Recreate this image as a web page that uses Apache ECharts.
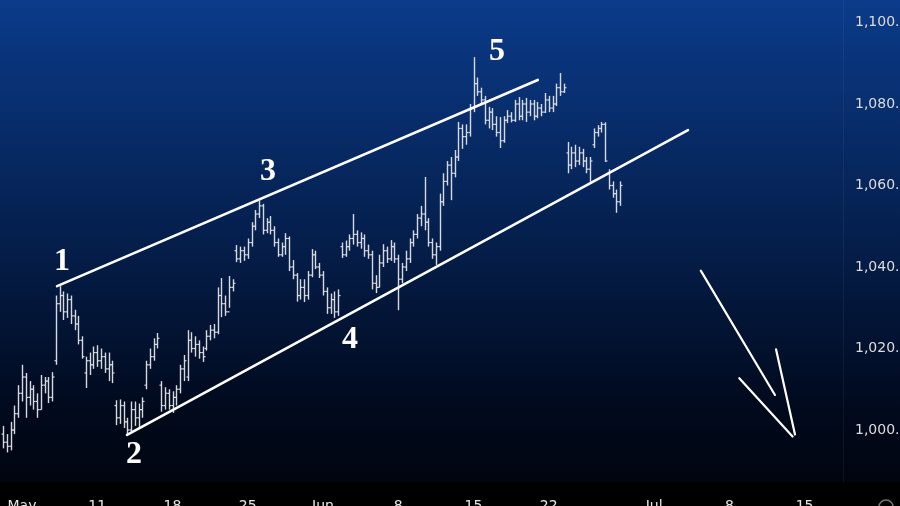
<!DOCTYPE html>
<html>
<head>
<meta charset="utf-8">
<script src="https://cdn.jsdelivr.net/npm/echarts@6/dist/echarts.min.js"></script>
<style>
html,body{margin:0;padding:0;background:#000;}
#chart{width:900px;height:506px;}
</style>
</head>
<body>
<div id="chart"></div>
<script>
// ---- data ----
// bars: [open, close, low, high], 4 bars per trading day, first bar at day -1.25 (day 0 = May 4)
var firstDay = -1.25;
var barsPerDay = 4;
var bars = [
[999,997,995.5,1001],[997,996,994.5,999],[996,1000,995,1002],[1000,1004,999,1006],
[1004,1009,1003,1011],[1009,1013,1007,1016],[1013,1008,1003,1014],[1008,1010,1006,1012],
[1010,1007,1005,1011],[1007,1005,1003,1009],[1005,1011,1005,1013.5],[1011,1012,1009,1013],
[1012,1008,1006.6,1013],[1008,1013,1007,1014.2],[1017,1031,1016,1033],[1031,1033,1029,1035.3],
[1033,1029,1027,1034],[1029,1032,1027.5,1033.5],[1032,1028,1026,1033],[1028,1026,1024.5,1029.5],
[1026,1022,1021,1028],[1022,1018,1017.5,1023],[1014,1017,1010.3,1018],[1017,1016,1013.5,1019],
[1016,1019,1015,1020.5],[1019,1017,1015.5,1020.8],[1017,1018,1015,1020],[1018,1015,1014,1019],
[1015,1016,1012,1019],[1016,1014,1011.5,1017],
[1006,1003,1001.2,1007.3],[1003,1006,1001.5,1007.5],[1006,1002,1000.5,1007],[1002,1000,998.8,1003],
[1000,1005,999.5,1007],[1005,1003,1001,1007],[1003,1005,1000.5,1006.5],[1005,1007,1003,1008],
[1011,1016,1010,1017],[1016,1018,1015,1020],[1018,1021,1017,1022.5],[1021,1022.5,1020,1023.8],
[1011,1006,1004.5,1012],[1006,1009,1005,1010.5],[1009,1006,1005,1010],[1006,1008,1004.2,1009.5],
[1008,1010,1006,1011],[1010,1015,1009,1016],[1015,1017,1012,1018.4],[1013,1022,1012,1024.5],
[1022,1020,1019,1024],[1020,1021,1018,1023],[1021,1019,1017.5,1022],[1019,1018,1016.7,1020.5],
[1020,1023,1019.5,1024.5],[1023,1024.5,1022,1025.8],[1024.5,1024,1022.5,1026],[1024,1033,1023.5,1035],
[1033,1031,1027.7,1037.3],[1031,1029,1028,1033],[1029,1035,1030,1037.8],[1035,1036,1034,1037],
[1044,1042,1041.2,1045.4],[1042,1044,1041,1045],[1044,1043,1041.5,1045],[1043,1046,1042,1047],
[1046,1050,1045,1051],[1050,1053,1049,1054],[1053,1055,1052,1056.3],[1055,1049,1048,1055.5],
[1049,1051,1048.3,1052],[1051,1049,1048,1052.5],[1049,1046,1045,1050],[1046,1043,1042.5,1047],
[1043,1045,1042.5,1046],[1045,1047,1043,1048.3],[1047,1040,1039,1047.5],[1040,1038,1037,1041.7],
[1038,1033,1031.5,1038.5],[1033,1035,1032,1037],[1035,1033,1031.4,1037],[1033,1038,1032,1039],
[1038,1043,1037.5,1044.4],[1043,1040,1039.5,1044],[1040,1038,1037.3,1041],[1038,1034,1033,1039],
[1034,1030,1028.5,1035],[1030,1032,1028.5,1033.5],[1032,1029,1027.5,1034],[1029,1033,1028,1034.5],
[1045,1043,1042.2,1046],[1043,1045,1042.5,1046.5],[1045,1047,1044,1048],[1047,1048,1045.5,1053],
[1048,1046,1045,1049],[1046,1047,1044.5,1048.5],[1047,1044,1042.5,1048],[1044,1043,1042,1045.5],
[1043,1036,1034.5,1044],[1036,1035,1033.6,1038],[1035,1041,1035,1043],[1041,1044,1040,1045.6],
[1044,1042,1041,1045],[1042,1045,1041.5,1046.6],[1045,1042,1041,1046],[1042,1037,1029.4,1043],
[1037,1040,1036,1041],[1040,1042,1039,1044],[1042,1046,1041,1047],[1046,1048,1045,1049],
[1048,1052,1047,1053],[1052,1053,1050,1055],[1053,1051,1049,1062.1],[1051,1046,1045,1052],
[1046,1043,1042,1047],[1043,1045,1040.5,1046],[1045,1056,1044,1058],[1056,1061,1055,1063],
[1061,1065,1060,1066],[1065,1063,1056.4,1067],[1063,1067,1062,1068.7],[1067,1074,1066,1075.6],
[1074,1072,1069,1075],[1072,1073,1070,1075],[1073,1079,1072,1080],[1079,1085,1078,1091.5],
[1085,1083,1082,1086.5],[1083,1081,1080,1084],[1081,1076,1075,1082],[1076,1078,1074,1079.3],
[1078,1075,1073.6,1079],[1075,1073,1072,1077],[1073,1071,1069.2,1076.8],[1071,1076,1070.5,1077],
[1076,1077,1075.3,1078.5],[1077,1076,1075.5,1078],[1076,1080,1075.6,1081],[1080,1077,1076,1081.7],
[1077,1080,1076,1081],[1080,1078,1075.6,1081.5],[1078,1080,1077,1081],[1080,1077,1076,1081],
[1077,1079,1076.5,1080.5],[1079,1078,1077,1080],[1078,1081,1077.8,1082.7],[1081,1079,1078,1082],
[1079,1080,1078,1082],[1080,1084,1079.5,1085],[1084,1083,1082,1087.6],[1083,1084,1082.7,1085],
[1068,1065,1063,1070.7],[1065,1068,1064,1069.5],[1068,1066,1064.5,1070],[1066,1068,1065,1069.5],
[1068,1066,1064.5,1069],[1066,1064,1063,1067],[1064,1066,1060.9,1067],[1070,1073,1069.2,1074],
[1073,1074,1072,1074.8],[1074,1075,1073,1075.6],[1075,1066,1065.8,1075.5],[1063,1060,1059,1064],
[1060,1058,1057,1061],[1058,1056,1053.3,1059],[1056,1060,1055,1061]
];

// trend lines & arrow in [day, price]
var upperLine = [[2.33,1035.3],[34.27,1085.9]];
var lowerLine = [[6.98,998.8],[44.25,1073.6]];
var arrowShaft = [[45.10,1039.1],[50.03,1008.6]];
var arrowHeadL = [[47.66,1012.7],[51.20,998.4]];
var arrowHeadR = [[50.10,1019.8],[51.36,998.9]];

// wave labels [day, price, text]
var waveLabels = [
  [2.66,1041.2,'1'],[7.44,993.9,'2'],[16.35,1063.3,'3'],[21.79,1022.1,'4'],[31.56,1092.8,'5']
];

// axis ticks
var xTickDays = [0,5,10,15,20,25,30,35,42,47,52];
var xTickLabels = ['May','11','18','25','Jun','8','15','22','Jul','8','15'];
var yTicks = [1000,1020,1040,1060,1080,1100];

// ---- chart ----
var ohlc = bars.map(function(b,i){ return [firstDay + i/barsPerDay, b[0], b[1], b[2], b[3]]; });
var barColor = '#d6d9e0';

var chart = echarts.init(document.getElementById('chart'), null, {renderer:'canvas'});

function lineSeries(data, w){
  return {type:'line', data:data, symbol:'none', silent:true, z:5,
    lineStyle:{color:'#ffffff', width:w, cap:'round'}, animation:false};
}

var option = {
  animation:false,
  backgroundColor: new echarts.graphic.LinearGradient(0,0,0,1,[
    {offset:0,color:'#0b3b8a'},
    {offset:0.45,color:'#05204f'},
    {offset:0.8,color:'#010a1e'},
    {offset:1,color:'#00030a'}
  ]),
  grid:{left:0, top:0, right:57, bottom:24, containLabel:false, outerBoundsMode:'none'},
  xAxis:{
    type:'value', min:-1.4618, max:54.55,
    axisLine:{show:false}, axisTick:{show:false}, splitLine:{show:false},
    axisLabel:{
      customValues:xTickDays, color:'#e6e6e6', fontSize:14, fontFamily:'DejaVu Sans',
      margin:17, hideOverlap:false,
      formatter:function(v){ var i = xTickDays.indexOf(v); return i>=0 ? xTickLabels[i] : ''; }
    }
  },
  yAxis:{
    type:'value', position:'right', min:987.24, max:1105.52,
    axisLine:{show:true, onZero:false, lineStyle:{color:'rgba(255,255,255,0.05)'}}, axisTick:{show:false}, splitLine:{show:false},
    axisLabel:{
      customValues:yTicks, color:'#dcdcdc', fontSize:14, fontFamily:'DejaVu Sans', margin:12, align:'left',
      hideOverlap:false,
      formatter:function(v){ return v.toLocaleString('en-US',{minimumFractionDigits:2, maximumFractionDigits:2}); }
    }
  },
  graphic:[
    {type:'rect', shape:{x:0,y:482,width:900,height:24}, style:{fill:'#000000'}, z:-1, silent:true},
    {type:'circle', shape:{cx:886,cy:507,r:7}, style:{fill:'none', stroke:'#777', lineWidth:1.5}, silent:true}
  ],
  series:[
    {
      type:'custom', data:ohlc, z:3, encode:{x:0, y:[1,2,3,4]}, clip:true,
      renderItem:function(params, api){
        var x = api.value(0);
        var po = api.coord([x, api.value(1)]);
        var pc = api.coord([x, api.value(2)]);
        var pl = api.coord([x, api.value(3)]);
        var ph = api.coord([x, api.value(4)]);
        var cx = Math.round(pl[0]) + 0.5;
        var st = {stroke:barColor, lineWidth:1.4};
        var ts = {stroke:barColor, lineWidth:1.2};
        return {type:'group', children:[
          {type:'line', shape:{x1:cx,y1:ph[1],x2:cx,y2:pl[1]}, style:st},
          {type:'line', shape:{x1:cx-2,y1:po[1],x2:cx,y2:po[1]}, style:ts},
          {type:'line', shape:{x1:cx,y1:pc[1],x2:cx+2,y2:pc[1]}, style:ts}
        ]};
      }
    },
    lineSeries(upperLine,2.6),
    lineSeries(lowerLine,2.6),
    lineSeries(arrowShaft,2.2),
    lineSeries(arrowHeadL,2.2),
    lineSeries(arrowHeadR,2.2),
    {
      type:'scatter', data:waveLabels.map(function(w){ return [w[0], w[1], w[2]]; }),
      symbolSize:1, itemStyle:{color:'rgba(0,0,0,0)'}, z:6, silent:true,
      label:{show:true, position:'inside', color:'#ffffff', fontSize:32, fontWeight:'bold',
        textBorderWidth:0, opacity:1,
        fontFamily:'Liberation Serif', formatter:function(p){ return p.data[2]; }}
    }
  ]
};
chart.setOption(option);
</script>
</body>
</html>
